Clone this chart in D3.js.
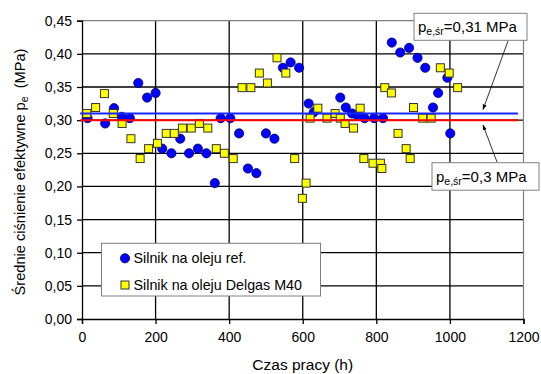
<!DOCTYPE html>
<html>
<head>
<meta charset="utf-8">
<script src="https://cdn.jsdelivr.net/npm/d3@7"></script>
<style>
  html, body { margin: 0; padding: 0; background: #fff; }
  svg { display: block; font-family: Arial, "Liberation Sans", sans-serif; }
</style>
</head>
<body>
<svg id="chart" width="541" height="374"></svg>
<script>
// Operating time (h) and mean effective pressure (MPa), engine on reference oil
const refHours = [15, 63, 87, 108, 130, 153, 177, 200, 218, 243, 267, 291, 315, 338, 361, 377, 403, 427, 451, 474,
  500, 523, 546, 567, 590, 616, 630, 702, 717, 734, 747, 768, 794, 818, 842, 865, 889, 912, 933, 954, 968, 993, 1001];
const refPressure = [0.303, 0.295, 0.318, 0.305, 0.303, 0.356, 0.334, 0.341, 0.257, 0.250, 0.272, 0.250, 0.257, 0.250, 0.205, 0.303, 0.303, 0.280, 0.227, 0.220,
  0.280, 0.272, 0.379, 0.387, 0.379, 0.325, 0.312, 0.334, 0.319, 0.310, 0.308, 0.303, 0.303, 0.303, 0.417, 0.402, 0.409, 0.394, 0.379, 0.319, 0.341, 0.364, 0.280];

// Engine on Delgas M40 oil
const delgasHours = [13, 37, 61, 85, 109, 133, 158, 181, 205, 229, 251, 273, 297, 319, 342, 365, 387, 411, 435, 459,
  482, 504, 530, 554, 578, 599, 609, 620, 641, 666, 688, 702, 715, 738, 756, 766, 791, 811, 815, 823,
  841, 859, 881, 892, 901, 926, 949, 974, 998, 1021];
const delgasPressure = [0.310, 0.319, 0.340, 0.310, 0.295, 0.272, 0.242, 0.257, 0.265, 0.280, 0.280, 0.288, 0.288, 0.295, 0.288, 0.257, 0.250, 0.242, 0.349, 0.349,
  0.371, 0.356, 0.394, 0.371, 0.242, 0.182, 0.205, 0.303, 0.318, 0.303, 0.310, 0.303, 0.295, 0.288, 0.318, 0.242, 0.235, 0.235, 0.227, 0.349,
  0.341, 0.280, 0.257, 0.242, 0.319, 0.303, 0.303, 0.379, 0.371, 0.349];

// Mean values of the two series
const meanRef = 0.31;
const meanDelgas = 0.30;
const meanLineSpan = [-5, 1185];

const xTicks = [0, 200, 400, 600, 800, 1000, 1200];
const yTicks = [0, 0.05, 0.10, 0.15, 0.20, 0.25, 0.30, 0.35, 0.40, 0.45];
const legendLabels = ["Silnik na oleju ref.", "Silnik na oleju Delgas M40"];

const svg = d3.select("#chart");
const plot = { left: 82, right: 523.5, top: 20.7, bottom: 319 };

const x = d3.scaleLinear().domain([0, 1200]).range([plot.left, plot.right]);
const y = d3.scaleLinear().domain([0, 0.45]).range([plot.bottom, plot.top]);
const fmtY = v => d3.format(".2f")(v).replace(".", ",");

// Grid
const grid = svg.append("g");
grid.selectAll("line.h").data(yTicks.slice(1, -1)).join("line")
  .attr("x1", plot.left).attr("x2", plot.right)
  .attr("y1", d => y(d)).attr("y2", d => y(d))
  .attr("stroke", "#000").attr("stroke-width", 1.3);
grid.selectAll("line.v").data(xTicks.slice(1, -1)).join("line")
  .attr("y1", plot.top).attr("y2", plot.bottom)
  .attr("x1", d => x(d)).attr("x2", d => x(d))
  .attr("stroke", "#000").attr("stroke-width", 1.3);

// Frame (top and right)
svg.append("path")
  .attr("d", `M${plot.left},${plot.top}H${plot.right}V${plot.bottom}`)
  .attr("fill", "none").attr("stroke", "#808080").attr("stroke-width", 1.2);

// Axes
const xAxis = svg.append("g").attr("transform", `translate(0,${plot.bottom})`)
  .call(d3.axisBottom(x).tickValues(xTicks).tickSize(5).tickPadding(8).tickFormat(d3.format("d")));
const yAxis = svg.append("g").attr("transform", `translate(${plot.left},0)`)
  .call(d3.axisLeft(y).tickValues(yTicks).tickSize(5).tickPadding(5).tickFormat(fmtY));
[xAxis, yAxis].forEach(a => {
  a.select(".domain").attr("stroke", "#000").attr("stroke-width", 1.3);
  a.selectAll(".tick line").attr("stroke", "#000").attr("stroke-width", 1.3);
  a.selectAll(".tick text").attr("font-size", 14).attr("fill", "#000")
    .attr("font-family", "Arial, 'Liberation Sans', sans-serif");
});

// Points: reference oil (circles)
svg.append("g").selectAll("circle").data(refHours.map((h, i) => [h, refPressure[i]])).join("circle")
  .attr("cx", d => x(d[0])).attr("cy", d => y(d[1])).attr("r", 4.6)
  .attr("fill", "#0000ff").attr("stroke", "#000066").attr("stroke-width", 0.8);

// Points: Delgas M40 oil (squares)
const sq = 8;
svg.append("g").selectAll("rect").data(delgasHours.map((h, i) => [h, delgasPressure[i]])).join("rect")
  .attr("x", d => x(d[0]) - sq / 2).attr("y", d => y(d[1]) - sq / 2)
  .attr("width", sq).attr("height", sq)
  .attr("fill", "#ffff00").attr("stroke", "#333").attr("stroke-width", 1);

// Mean lines
const meanLine = (v, color) => svg.append("line")
  .attr("x1", x(meanLineSpan[0])).attr("x2", x(meanLineSpan[1]))
  .attr("y1", y(v)).attr("y2", y(v))
  .attr("stroke", color).attr("stroke-width", 2);
meanLine(meanRef, "#1a26ff");
meanLine(meanDelgas, "#ff0000");

// Arrow marker
svg.append("defs").append("marker")
  .attr("id", "arrow").attr("viewBox", "0 0 10 10").attr("refX", 9).attr("refY", 5)
  .attr("markerWidth", 7).attr("markerHeight", 7).attr("orient", "auto")
  .append("path").attr("d", "M0,1.5L10,5L0,8.5Z").attr("fill", "#000");

// Callout boxes with the mean values
function callout(bx, by, bw, bh, value, ax1, ay1, ax2, ay2) {
  svg.append("line").attr("x1", ax1).attr("y1", ay1).attr("x2", ax2).attr("y2", ay2)
    .attr("stroke", "#000").attr("stroke-width", 0.8).attr("marker-end", "url(#arrow)");
  svg.append("rect").attr("x", bx).attr("y", by).attr("width", bw).attr("height", bh)
    .attr("fill", "#fff").attr("stroke", "#808080").attr("stroke-width", 1);
  const t = svg.append("text").attr("x", bx + 4).attr("y", by + bh - 8.5).attr("font-size", 15).attr("fill", "#000");
  t.append("tspan").text("p");
  t.append("tspan").attr("font-size", 10.5).attr("dy", 3.5).text("e,śr");
  t.append("tspan").attr("dy", -3.5).text("=" + String(value).replace(".", ",") + " MPa");
}
callout(414, 13.3, 113, 27, meanRef, 508, 41, x(1090), y(meanRef) - 4);
callout(432, 162.7, 107, 27.5, meanDelgas, 497, 162, x(1090), y(meanDelgas) + 5);

// Legend
const lg = svg.append("g");
lg.append("rect").attr("x", 101.5).attr("y", 243.3).attr("width", 219).attr("height", 52.7)
  .attr("fill", "#fff").attr("stroke", "#808080").attr("stroke-width", 1);
lg.append("circle").attr("cx", 125).attr("cy", 258.3).attr("r", 4.6)
  .attr("fill", "#0000ff").attr("stroke", "#000066").attr("stroke-width", 0.8);
lg.append("rect").attr("x", 121).attr("y", 281).attr("width", sq).attr("height", sq)
  .attr("fill", "#ffff00").attr("stroke", "#333").attr("stroke-width", 1);
lg.selectAll("text").data(legendLabels).join("text")
  .attr("x", 133.5).attr("y", (d, i) => 263.3 + i * 26.7)
  .attr("font-size", 14.3).attr("fill", "#000").text(d => d);

// Axis titles
svg.append("text").attr("x", (plot.left + plot.right) / 2).attr("y", 370)
  .attr("text-anchor", "middle").attr("font-size", 15.5).attr("fill", "#000").text("Czas pracy (h)");
const yt = svg.append("text").attr("transform", "translate(25,172) rotate(-90)")
  .attr("text-anchor", "middle").attr("font-size", 14.6).attr("fill", "#000");
yt.append("tspan").text("Średnie ciśnienie efektywne  p");
yt.append("tspan").attr("font-size", 10.5).attr("dy", 3).text("e");
yt.append("tspan").attr("dy", -3).attr("xml:space", "preserve").text("  (MPa)");
</script>
</body>
</html>
